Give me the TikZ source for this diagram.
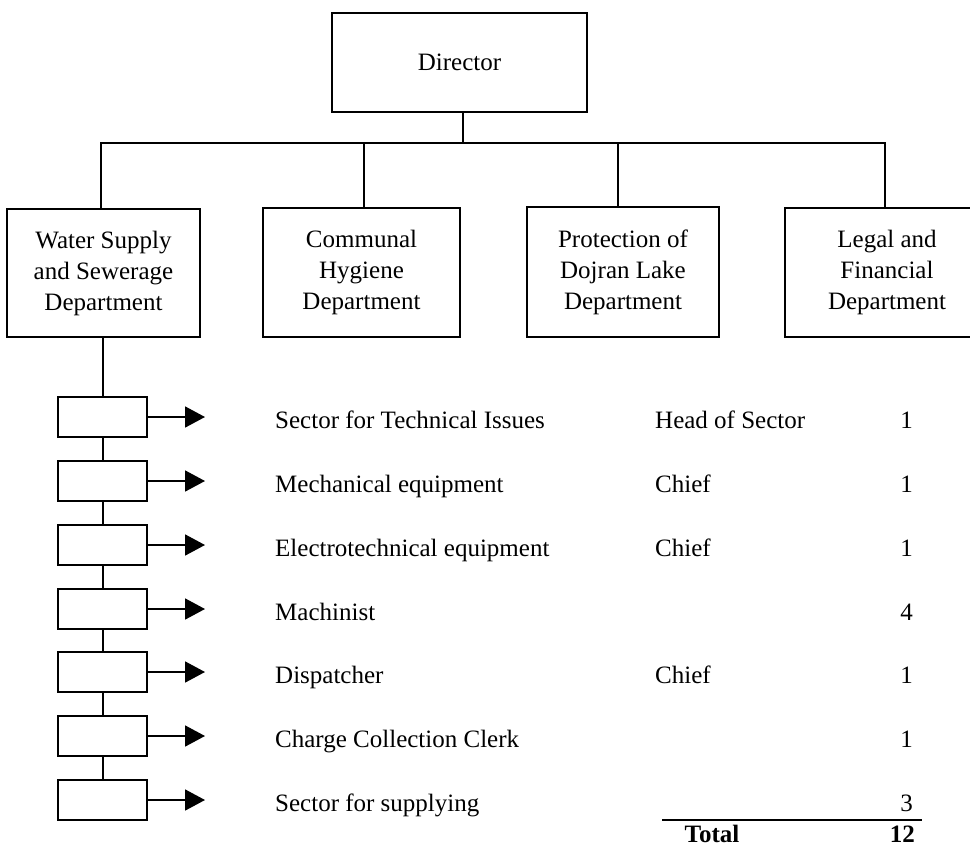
\documentclass[tikz,border=0pt]{standalone}
\usepackage{fontspec}
\setmainfont{Liberation Serif}
\usetikzlibrary{arrows.meta}

\begin{document}
\begin{tikzpicture}[x=1pt, y=-1pt,
  txt/.style={font=\fontsize{25}{31}\selectfont, inner sep=0pt},
  box/.style={draw, line width=2pt, inner sep=0pt, align=center,
    font=\fontsize{25}{31}\selectfont},
  unit/.style={draw, line width=2pt, inner sep=0pt,
    minimum width=89pt, minimum height=40pt},
  link/.style={line width=2pt},
  arr/.style={line width=1.8pt, -{Triangle[length=20pt, width=21pt]}},
  ruleline/.style={line width=1.8pt}
]
\useasboundingbox (0,0) rectangle (970,847);
\clip (0,0) rectangle (970,847);

% top of the hierarchy
\node[box, minimum width=255pt, minimum height=99pt] (dir) at (459.5,62.5) {Director};

% departments
\node[box, minimum width=193pt, minimum height=128pt] (water) at (103.5,273)
  {Water Supply\\and Sewerage\\Department};
\node[box, minimum width=197pt, minimum height=129pt] (comm) at (361.5,272.5)
  {Communal\\Hygiene\\Department};
\node[box, minimum width=192pt, minimum height=130pt] (prot) at (623,272)
  {Protection of\\Dojran Lake\\Department};
\node[box, minimum width=204pt, minimum height=129pt] (legal) at (887,272)
  {Legal and\\Financial\\Department};

% distribution bus
\coordinate (bus) at (463,143);
\draw[link] (dir.south -| bus) -- (bus);
\draw[link] ([xshift=-3pt]water.north) |- (bus) -| ([xshift=-2pt]legal.north);
\draw[link] ([xshift=2pt]comm.north) -- ([xshift=2pt]comm.north |- bus);
\draw[link] ([xshift=-5pt]prot.north) -- ([xshift=-5pt]prot.north |- bus);

% sector units under Water Supply and Sewerage
\foreach \i/\y in {1/417, 2/481, 3/545, 4/609, 5/672, 6/736, 7/800} {
  \node[unit] (s\i) at (102.5,\y) {};
  \coordinate (t\i) at (205,\y);
  \draw[arr] (s\i.east) -- (t\i);
}
\draw[link] (water.south -| s1.north) -- (s1.north);
\foreach \a/\b in {1/2, 2/3, 3/4, 4/5, 5/6, 6/7}
  \draw[link] (s\a.south) -- (s\b.north);

% staffing table
\foreach \i/\y/\name/\role/\n in {
  1/417/{Sector for Technical Issues}/{Head of Sector}/1,
  2/481/{Mechanical equipment}/{Chief}/1,
  3/545/{Electrotechnical equipment}/{Chief}/1,
  4/609/{Machinist}/{}/4,
  5/672/{Dispatcher}/{Chief}/1,
  6/736/{Charge Collection Clerk}/{}/1,
  7/800/{Sector for supplying}/{}/3} {
  \node[txt, anchor=base west] (name\i) at (275,\y+11) {\name};
  \node[txt, anchor=base west] (role\i) at (655,\y+11) {\role};
  \node[txt, anchor=base east] (num\i) at (913,\y+11) {\n};
}

% total
\coordinate (rl) at (662,820);
\coordinate (rr) at (922,820);
\draw[ruleline] (rl) -- (rr);
\node[txt, font=\fontsize{25}{31}\selectfont\bfseries, anchor=base] (total) at (712,842) {Total};
\node[txt, font=\fontsize{25}{31}\selectfont\bfseries, anchor=base east] (sum) at (915,842) {12};
\end{tikzpicture}
\end{document}
